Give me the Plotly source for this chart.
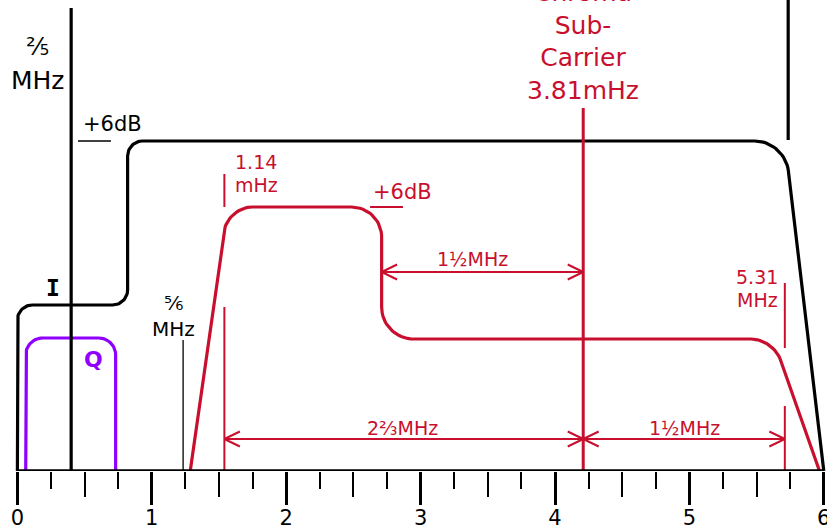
import numpy as np
import plotly.graph_objects as go

# ---------------- data ----------------
# x = frequency position on the 0..6 MHz axis, y = relative level (display units)
tick_vals = [0, 1, 2, 3, 4, 5, 6]
tick_text = ["0", "1", "2", "3", "4", "5", "6"]
quarter_ticks = [0.25, 0.75, 1.25, 1.75, 2.25, 2.75, 3.25, 3.75, 4.25, 4.75, 5.25, 5.75]
half_ticks = [0.5, 1.5, 2.5, 3.5, 4.5, 5.5]

# I (luminance / I) response, black
i_x = [0.0, 0.0, 0.82, 0.82, 5.71, 6.0]
i_y = [0, 166, 166, 330, 330, 0]
i_r = [15, 15, 15, 30]
# Q response, purple
q_x = [0.062, 0.062, 0.731, 0.731]
q_y = [0, 133, 133, 0]
q_r = [17, 17]
# chroma response, red
c_x = [1.286, 1.563, 2.71, 2.71, 5.623, 5.968]
c_y = [0, 264, 264, 132, 132, 0]
c_r = [25, 30, 32, 22]

# markers
f_two_fifths = 0.4          # 2/5 MHz line
f_five_sixths = 1.233       # 5/6 MHz marker
f_114 = 1.54                # 1.14 mHz marker
f_chroma = 4.21             # chroma sub-carrier 3.81 mHz
f_531 = 5.71                # 5.31 MHz marker
f_step = 2.71               # chroma step
f_right = 5.735             # right black line
level_top = 471
level_2_5_top = 463
level_chroma_top = 363
level_five_sixths = 131
level_i_high = 330
level_c_high = 264
level_dim_upper = 199
level_dim_lower = 32

RED = "#C8102E"
PURPLE = "#8F00FF"
BLACK = "#000000"
FONT = "DejaVu Sans"

SX = 134.4  # px per MHz
XMIN = -17.4 / SX
XMAX = XMIN + 827 / SX


def rounded(xs, ys, radii, n=18):
    pts = np.array([[x * SX, y] for x, y in zip(xs, ys)], dtype=float)
    out = [pts[0]]
    k = 0.5523
    for i in range(1, len(pts) - 1):
        A, V, B = pts[i - 1], pts[i], pts[i + 1]
        d1 = (V - A) / np.linalg.norm(V - A)
        d2 = (B - V) / np.linalg.norm(B - V)
        r = radii[i - 1]
        P0 = V - d1 * r
        P3 = V + d2 * r
        P1 = P0 + d1 * r * k
        P2 = P3 - d2 * r * k
        for t in np.linspace(0, 1, n):
            p = ((1 - t) ** 3) * P0 + 3 * ((1 - t) ** 2) * t * P1 + 3 * (1 - t) * t * t * P2 + (t ** 3) * P3
            out.append(p)
    out.append(pts[-1])
    out = np.array(out)
    return list(out[:, 0] / SX), list(out[:, 1])


def seg_trace(segs, color, width):
    xs, ys = [], []
    for (x0, y0, x1, y1) in segs:
        xs += [x0, x1, None]
        ys += [y0, y1, None]
    return go.Scatter(x=xs, y=ys, mode="lines", line=dict(color=color, width=width),
                      hoverinfo="skip", showlegend=False)


def arrow_heads(tips, color, width):
    xs, ys = [], []
    L, H = 15.5, 7.5
    for (xt, yt, d) in tips:  # d = +1 points left, -1 points right
        xs += [xt + d * L / SX, xt, xt + d * L / SX, None]
        ys += [yt + H, yt, yt - H, None]
    return go.Scatter(x=xs, y=ys, mode="lines", line=dict(color=color, width=width),
                      hoverinfo="skip", showlegend=False)


fig = go.Figure()

# main curves
ix, iy = rounded(i_x, i_y, i_r)
qx, qy = rounded(q_x, q_y, q_r)
cx, cy = rounded(c_x, c_y, c_r)
fig.add_trace(go.Scatter(x=ix, y=iy, mode="lines", line=dict(color=BLACK, width=3.2), hoverinfo="skip"))
fig.add_trace(go.Scatter(x=qx, y=qy, mode="lines", line=dict(color=PURPLE, width=3.2), hoverinfo="skip"))
fig.add_trace(go.Scatter(x=cx, y=cy, mode="lines", line=dict(color=RED, width=3.2), hoverinfo="skip"))

# black lines
fig.add_trace(seg_trace([(f_two_fifths, 0, f_two_fifths, level_2_5_top),
                         (f_right, level_i_high + 1, f_right, level_top)], BLACK, 3.2))
fig.add_trace(seg_trace([(f_five_sixths, 0, f_five_sixths, level_five_sixths)], "#222222", 1.5))
fig.add_trace(seg_trace([(0.451, level_i_high, 0.696, level_i_high)], BLACK, 1.6))

# red lines
fig.add_trace(seg_trace([(f_chroma, 0, f_chroma, level_chroma_top)], RED, 3.0))
fig.add_trace(seg_trace([
    (f_114, level_c_high, f_114, 297),
    (f_114, 0, f_114, 164),
    (f_531, 123, f_531, 188),
    (f_531, 0, f_531, 65),
    (2.624, level_c_high, 2.869, level_c_high),
], RED, 2.0))
fig.add_trace(seg_trace([
    (f_step, level_dim_upper, f_chroma, level_dim_upper),
    (f_114, level_dim_lower, f_chroma, level_dim_lower),
    (f_chroma, level_dim_lower, f_531, level_dim_lower),
], RED, 2.0))
fig.add_trace(arrow_heads([
    (f_step, level_dim_upper, 1), (f_chroma, level_dim_upper, -1),
    (f_114, level_dim_lower, 1), (f_chroma, level_dim_lower, -1),
    (f_chroma, level_dim_lower, 1), (f_531, level_dim_lower, -1),
], RED, 2.0))

# invisible trace for the half-tick axis
fig.add_trace(go.Scatter(x=[0], y=[0], xaxis="x2", mode="markers", marker=dict(opacity=0),
                         hoverinfo="skip", showlegend=False))


def ann(text, x, y, color, size, xanchor="center", bold=False, family=FONT):
    fig.add_annotation(x=x, y=y, text=("<b>%s</b>" % text) if bold else text, showarrow=False,
                       xanchor=xanchor, yanchor="middle",
                       font=dict(family=family, size=size, color=color))


ann("⅖", 0.153, 424, BLACK, 24)
ann("MHz", 0.153, 391, BLACK, 25)
ann("+6dB", 0.711, 347, BLACK, 21)
ann("I", 0.267, 183, BLACK, 23, bold=True, family="DejaVu Sans Mono")
ann("Q", 0.565, 112, PURPLE, 22, bold=True)
ann("⅚", 1.158, 168, BLACK, 20)
ann("MHz", 1.165, 142, BLACK, 20)
ann("1.14", 1.604, 309, RED, 19, xanchor="left")
ann("mHz", 1.604, 286, RED, 19, xanchor="left")
ann("+6dB", 2.862, 279, RED, 21)
ann("1½MHz", 3.383, 212, RED, 19)
ann("5.31", 5.674, 194, RED, 19, xanchor="right")
ann("MHz", 5.674, 171, RED, 19, xanchor="right")
ann("2⅔MHz", 2.869, 43, RED, 19)
ann("1½MHz", 4.96, 43, RED, 19)
ann("Chroma<br>Sub-<br>Carrier<br>3.81mHz", f_chroma, 430, RED, 25)

# axis baseline
fig.add_shape(type="line", x0=0, x1=6, y0=0, y1=0, line=dict(color=BLACK, width=3.5), layer="above")

fig.update_layout(
    width=827, height=525,
    margin=dict(l=0, r=0, t=0, b=54, pad=0, autoexpand=False),
    plot_bgcolor="white", paper_bgcolor="white",
    showlegend=False,
    xaxis=dict(range=[XMIN, XMAX], showgrid=False, zeroline=False, showline=False,
               automargin=False,
               tickmode="array", tickvals=tick_vals, ticktext=tick_text,
               ticks="outside", ticklen=33, tickwidth=3, tickcolor=BLACK,
               ticklabelstandoff=-5, ticklabeloverflow="allow",
               tickfont=dict(family=FONT, size=21, color=BLACK),
               minor=dict(tickmode="array", tickvals=quarter_ticks, ticks="outside",
                          ticklen=17, tickwidth=1.5, tickcolor=BLACK, showgrid=False),
               fixedrange=True),
    xaxis2=dict(range=[XMIN, XMAX], overlaying="x", anchor="y", side="bottom",
                automargin=False,
                showgrid=False, zeroline=False, showline=False, showticklabels=False,
                tickmode="array", tickvals=half_ticks, ticks="outside",
                ticklen=25, tickwidth=1.5, tickcolor=BLACK, fixedrange=True),
    yaxis=dict(range=[0, level_top], visible=False, fixedrange=True, automargin=False),
)

fig.write_html("out.html", config={"displayModeBar": False},
               post_script="document.body.style.margin='0px';document.body.style.overflow='hidden';")
